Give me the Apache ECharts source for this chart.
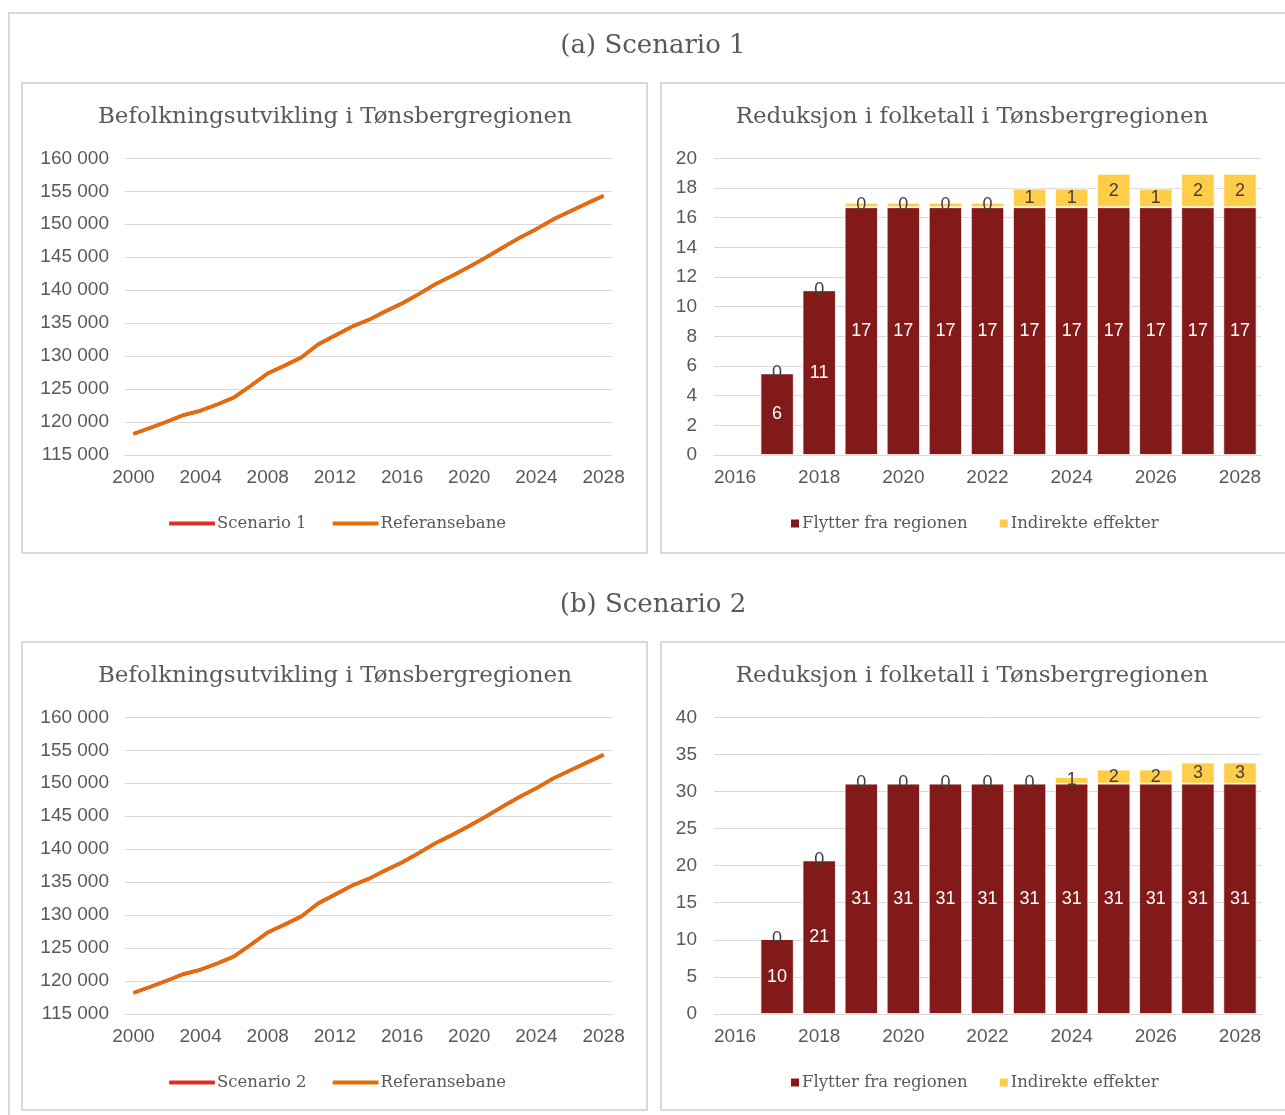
<!DOCTYPE html>
<html>
<head>
<meta charset="utf-8">
<script src="https://cdn.jsdelivr.net/npm/echarts@6/dist/echarts.min.js"></script>
<style>
html,body{margin:0;padding:0;background:#fff;}
#c{width:1285px;height:1115px;}
</style>
</head>
<body>
<div id="c"></div>
<script>
// ---- data ----
const lineYears = ['2000','2001','2002','2003','2004','2005','2006','2007','2008','2009','2010','2011','2012','2013','2014','2015','2016','2017','2018','2019','2020','2021','2022','2023','2024','2025','2026','2027','2028'];
const referansebane = [118200,119100,120050,121070,121720,122680,123750,125520,127390,128550,129810,131780,133100,134460,135480,136790,138000,139420,140940,142200,143560,144980,146500,147960,149280,150750,151960,153170,154330];
const scenario1Line = [118200,119100,120050,121070,121720,122680,123750,125520,127390,128550,129810,131780,133100,134460,135480,136790,138000,139414,140929,142183,143543,144963,146483,147942,149262,150731,151942,153151,154311];
const scenario2Line = [118200,119100,120050,121070,121720,122680,123750,125520,127390,128550,129810,131780,133100,134460,135480,136790,138000,139410,140919,142169,143529,144949,146469,147929,149248,150717,151927,153136,154296];

const barYears = ['2016','2017','2018','2019','2020','2021','2022','2023','2024','2025','2026','2027','2028'];
const s1Flytter   = ['-', 5.5, 11.1, 16.7, 16.7, 16.7, 16.7, 16.7, 16.7, 16.7, 16.7, 16.7, 16.7];
const s1Indirekte = ['-', 0, 0, 0.3, 0.3, 0.3, 0.3, 1.25, 1.25, 2.25, 1.25, 2.25, 2.25];
const s2Flytter   = ['-', 10.1, 20.7, 31.05, 31.05, 31.05, 31.05, 31.05, 31.05, 31.05, 31.05, 31.05, 31.05];
const s2Indirekte = ['-', 0, 0, 0.05, 0.05, 0.05, 0.05, 0.05, 0.9, 1.9, 1.9, 2.85, 2.85];

const mainTitles = ['(a) Scenario 1', '(b) Scenario 2'];
const lineTitle = 'Befolkningsutvikling i Tønsbergregionen';
const barTitle = 'Reduksjon i folketall i Tønsbergregionen';

// ---- styling ----
const SANS = "'Liberation Sans', Arial, sans-serif";
const SERIF = "'DejaVu Serif', Georgia, serif";
const GREY = '#595959';
const GRID = '#d9d9d9';
const RED = '#db3125', ORANGE = '#e46c0a', DARKRED = '#821a1a', YELLOW = '#ffcd47';

const chart = echarts.init(document.getElementById('c'), null, {renderer:'canvas'});

const rowOff = [0, 559];
const grids = [], xAxes = [], yAxes = [], series = [], legends = [], graphics = [];

function fmtThousands(v){ return String(v).replace(/\B(?=(\d{3})+(?!\d))/g, ' '); }

function text(x, y, t, size){
  return {type:'text', x:x, y:y, silent:true,
    style:{text:t, fill:GREY, fontSize:size, fontFamily:SERIF,
      textAlign:'center', align:'center', textVerticalAlign:'middle', verticalAlign:'middle'}};
}
function box(x,y,w,h){
  return {type:'rect', silent:true, shape:{x:x,y:y,width:w,height:h},
    style:{fill:'none', stroke:GRID, lineWidth:2}};
}

graphics.push(box(9,13,1300,1200));
const lineSeriesData = [scenario1Line, scenario2Line];
const barData = [[s1Flytter, s1Indirekte],[s2Flytter, s2Indirekte]];
const barMax = [20, 40], barInt = [2, 5];

for (let r=0; r<2; r++){
  const o = rowOff[r];
  graphics.push(box(22, 83+o, 625, 470 - (r?2:0)));
  graphics.push(box(661, 83+o, 700, 470 - (r?2:0)));
  graphics.push(text(653, 46+o, mainTitles[r], 26));
  graphics.push(text(335, 117+o, lineTitle, 23));
  graphics.push(text(972, 117+o, barTitle, 23));

  // line grid
  const gi = grids.length;
  grids.push({left:125, top:158.3+o, width:487, height:296.7});
  xAxes.push({type:'category', gridIndex:gi, data:lineYears, boundaryGap:true,
    axisTick:{show:false}, axisLine:{show:true, lineStyle:{color:GRID}},
    axisLabel:{interval:3, color:GREY, fontSize:19, fontFamily:SANS, margin:13}});
  yAxes.push({type:'value', gridIndex:gi, min:115000, max:160000, interval:5000,
    axisLine:{show:false}, axisTick:{show:false},
    splitLine:{lineStyle:{color:GRID, width:1}},
    axisLabel:{color:GREY, fontSize:19, fontFamily:SANS, margin:16, formatter:fmtThousands}});
  const sName = 'Scenario ' + (r+1);
  series.push({type:'line', name:sName, xAxisIndex:gi, yAxisIndex:gi, data:lineSeriesData[r],
    symbol:'none', lineStyle:{color:RED, width:3.5}, itemStyle:{color:RED}, z:2});
  series.push({type:'line', name:'Referansebane', xAxisIndex:gi, yAxisIndex:gi, data:referansebane,
    symbol:'none', lineStyle:{color:ORANGE, width:3.5}, itemStyle:{color:ORANGE}, z:3});
  legends.push({left:164, top:510+o, itemWidth:46, itemHeight:4, itemGap:26, icon:'roundRect',
    data:[sName,'Referansebane'], selectedMode:false,
    textStyle:{color:GREY, fontSize:16.5, fontFamily:SERIF, padding:[0,0,0,-3]}});

  // bar grid
  const bi = grids.length;
  grids.push({left:714, top:158.3+o, width:547, height:296.7});
  xAxes.push({type:'category', gridIndex:bi, data:barYears,
    axisTick:{show:false}, axisLine:{show:true, lineStyle:{color:GRID}},
    axisLabel:{interval:1, color:GREY, fontSize:19, fontFamily:SANS, margin:13}});
  yAxes.push({type:'value', gridIndex:bi, min:0, max:barMax[r], interval:barInt[r],
    axisLine:{show:false}, axisTick:{show:false},
    splitLine:{lineStyle:{color:GRID, width:1}},
    axisLabel:{color:GREY, fontSize:19, fontFamily:SANS, margin:17}});
  const stack = 'st'+r;
  series.push({type:'bar', name:'Flytter fra regionen', xAxisIndex:bi, yAxisIndex:bi, stack:stack,
    data:barData[r][0], barCategoryGap:'21%',
    itemStyle:{color:DARKRED, borderColor:'#fff', borderWidth:0.8},
    label:{show:true, position:'inside', color:'#fff', fontSize:18, fontFamily:SANS,
      formatter:p=>Math.round(p.value)}});
  series.push({type:'bar', name:'Indirekte effekter', xAxisIndex:bi, yAxisIndex:bi, stack:stack,
    data:barData[r][1], barCategoryGap:'21%',
    itemStyle:{color:YELLOW, borderColor:'#fff', borderWidth:0.8},
    label:{show:true, position:'inside', color:'#404040', fontSize:18, fontFamily:SANS,
      formatter:p=>Math.round(p.value)}});
  legends.push({left:784, top:510+o, itemWidth:10, itemHeight:10, itemGap:30, icon:'rect',
    data:['Flytter fra regionen','Indirekte effekter'], selectedMode:false,
    textStyle:{color:GREY, fontSize:16.5, fontFamily:SERIF, padding:[0,0,0,-3]}});
}

chart.setOption({
  animation:false,
  grid:grids, xAxis:xAxes, yAxis:yAxes, series:series, legend:legends,
  graphic:{elements:graphics}
});
</script>
</body>
</html>
